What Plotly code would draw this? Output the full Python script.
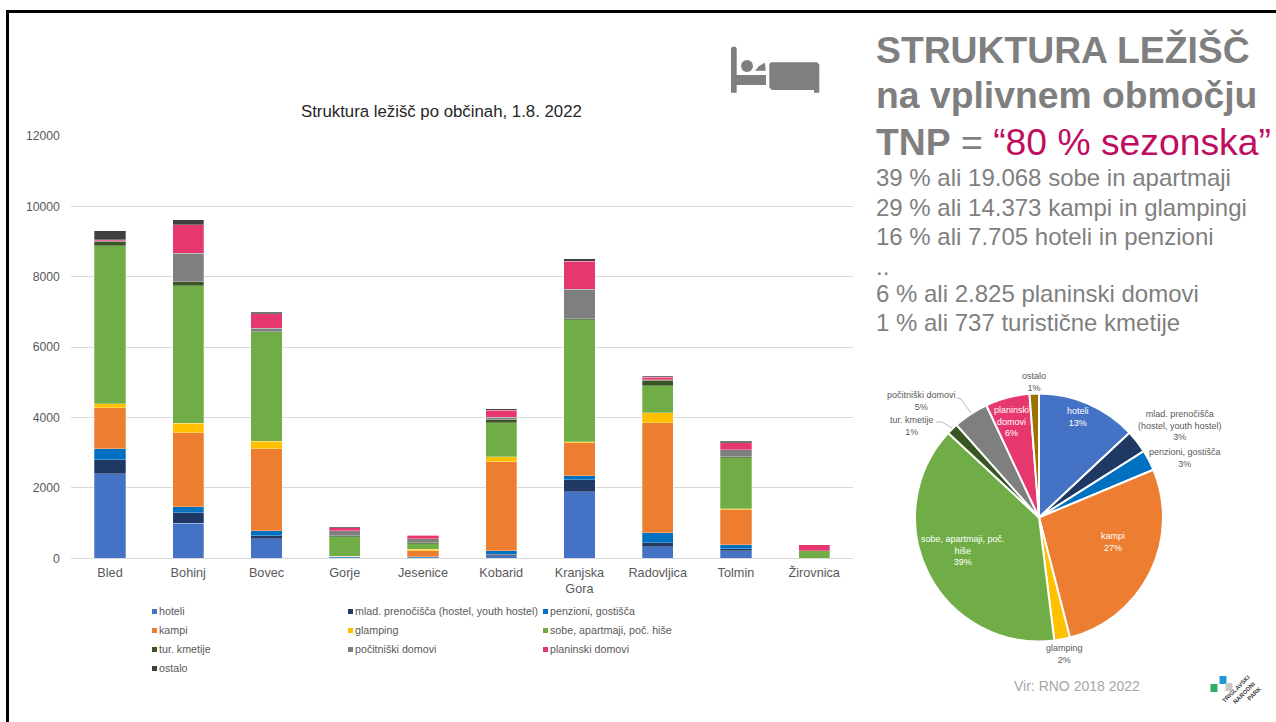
import plotly.graph_objects as go

# ---- data ----
municipalities = ["Bled", "Bohinj", "Bovec", "Gorje", "Jesenice", "Kobarid", "Kranjska<br>Gora", "Radovljica", "Tolmin", "Žirovnica"]
hoteli = [2400, 995, 557, 10, 10, 76, 1887, 322, 209, 0]
mlad = [400, 302, 86, 10, 10, 38, 341, 124, 66, 0]
penzioni = [315, 171, 142, 30, 30, 95, 123, 274, 104, 0]
kampi = [1165, 2095, 2330, 5, 166, 2531, 939, 3138, 1005, 0]
glamping = [105, 275, 212, 0, 40, 142, 18, 285, 29, 0]
sobe = [4495, 3912, 3108, 559, 151, 967, 3470, 758, 1440, 209]
tur_kmetije = [120, 115, 5, 26, 48, 85, 38, 152, 29, 0]
pocitniski = [30, 805, 100, 145, 94, 76, 825, 19, 208, 0]
planinski = [20, 807, 406, 77, 105, 199, 806, 76, 200, 170]
ostalo = [260, 143, 39, 38, 0, 38, 66, 28, 37, 0]

series_names = ["hoteli", "mlad. prenočišča (hostel, youth hostel)", "penzioni, gostišča", "kampi", "glamping",
                "sobe, apartmaji, poč. hiše", "tur. kmetije", "počitniški domovi", "planinski domovi", "ostalo"]
series_values = [hoteli, mlad, penzioni, kampi, glamping, sobe, tur_kmetije, pocitniski, planinski, ostalo]
colors = ["#4472C4", "#1F3864", "#0070C0", "#ED7D31", "#FFC000", "#70AD47", "#375623", "#7F7F7F", "#E6386E", "#404040"]
pie_colors = colors[:9] + ["#997300"]

pie_values = [6385, 1470, 1320, 13373, 1000, 19068, 737, 2250, 2825, 600]

chart_title = "Struktura ležišč po občinah, 1.8. 2022"
y_ticks = [0, 2000, 4000, 6000, 8000, 10000, 12000]
body_lines = ["39 % ali 19.068 sobe in apartmaji", "29 % ali 14.373 kampi in glampingi", "16 % ali 7.705 hoteli in penzioni",
              "..", "6 % ali 2.825 planinski domovi", "1 % ali 737 turistične kmetije"]

W, H = 1276, 722
FONT = "Liberation Sans"
GREY = "#7F7F7F"
LBL = "#595959"

def px(x): return x / W
def py(y): return 1 - y / H

fig = go.Figure()
for name, vals, col in zip(series_names, series_values, colors):
    fig.add_bar(x=municipalities, y=vals, name=name, marker=dict(color=col, line=dict(color="rgba(255,255,255,0.35)", width=0.8)),
                xaxis="x", yaxis="y", showlegend=False)
fig.add_pie(values=pie_values, labels=series_names, sort=False, direction="clockwise", rotation=0,
            marker=dict(colors=pie_colors, line=dict(color="white", width=2)), textinfo="none", hoverinfo="label+percent",
            domain=dict(x=[px(915), px(1163)], y=[py(641.5), py(393.5)]), showlegend=False)

shapes, ann = [], []

def text(x, y, s, size, color=LBL, xanchor="left", angle=0, align="left"):
    ann.append(dict(x=px(x), y=py(y), xref="paper", yref="paper", text=s, showarrow=False, xanchor=xanchor, yanchor="middle",
                    font=dict(family=FONT, size=size, color=color), textangle=angle, align=align, borderpad=0))

# frame
shapes.append(dict(type="line", xref="paper", yref="paper", x0=px(7.5), x1=1, y0=py(11.5), y1=py(11.5), line=dict(color="black", width=3)))
shapes.append(dict(type="line", xref="paper", yref="paper", x0=px(7.5), x1=px(7.5), y0=py(10), y1=0, line=dict(color="black", width=3)))

# chart title
text(441.5, 112, chart_title, 16.8, "#262626", "center")

# bar legend
leg_x = [152, 348, 543]
leg_y = [611, 630, 649, 668]
order = [(0, 0), (1, 0), (2, 0), (0, 1), (1, 1), (2, 1), (0, 2), (1, 2), (2, 2), (0, 3)]
for (cx, ry), name, col in zip(order, series_names, colors):
    x0, y0 = leg_x[cx], leg_y[ry]
    shapes.append(dict(type="rect", xref="paper", yref="paper", x0=px(x0), x1=px(x0 + 5), y0=py(y0 + 3), y1=py(y0 - 2), fillcolor=col, line=dict(width=0)))
    text(x0 + 6, y0, name, 10.7, LBL)

# right headline
text(875, 50, "<b>STRUKTURA LEŽIŠČ</b>", 37.3, GREY)
text(875, 95, "<b>na vplivnem območju</b>", 37.3, GREY)
text(875, 142, "<b>TNP</b> = <span style='color:#C00D5F'>“80 % sezonska”</span>", 37.3, GREY)
for y, line in zip([177, 207, 236, 266, 293, 322], body_lines):
    text(875, y, line, 24, GREY)

# pie labels
pie_labels = [
    (1078, 417, "hoteli<br>13%", "white"), (1180, 425.5, "mlad. prenočišča<br>(hostel, youth hostel)<br>3%", LBL),
    (1185, 458, "penzioni, gostišča<br>3%", LBL), (1113, 542, "kampi<br>27%", "white"),
    (1064, 653.5, "glamping<br>2%", LBL), (963, 550, "sobe, apartmaji, poč.<br>hiše<br>39%", "white"),
    (912, 425.5, "tur. kmetije<br>1%", LBL), (921.5, 401, "počitniški domovi<br>5%", LBL),
    (1011, 421.5, "planinski<br>domovi<br>6%", "white"), (1034, 381.5, "ostalo<br>1%", LBL),
]
for x, y, s, c in pie_labels:
    text(x, y, s, 9, c, "center", align="center")
for pts in [[(957, 398), (961, 399), (971, 413)], [(936, 422), (942, 422), (952, 428)]]:
    for a, b in zip(pts, pts[1:]):
        shapes.append(dict(type="line", xref="paper", yref="paper", x0=px(a[0]), y0=py(a[1]), x1=px(b[0]), y1=py(b[1]), line=dict(color="#A6A6A6", width=0.8)))

text(1077, 686, "Vir: RNO 2018 2022", 14, "#A6A6A6", "center")

# bed icon
def path(points): return "M" + " L".join(f"{px(a):.5f},{py(b):.5f}" for a, b in points) + " Z"
bed = [[(731, 48), (732.5, 46.7), (735.5, 46.7), (736.7, 48), (736.7, 75), (766, 75), (766, 85), (736.7, 85), (736.7, 92.7), (731, 92.7)],
       [(771, 62.3), (817, 62.3), (819.3, 64.5), (819.3, 92.7), (814, 92.7), (814, 90), (772, 90), (769.3, 87.5), (769.3, 64)],
       [(755, 70.7), (759, 66), (765, 62.7), (765.7, 70.7)]]
for p in bed:
    shapes.append(dict(type="path", xref="paper", yref="paper", path=path(p), fillcolor=GREY, line=dict(width=0)))
shapes.append(dict(type="circle", xref="paper", yref="paper", x0=px(741), x1=px(753), y0=py(72), y1=py(60), fillcolor=GREY, line=dict(width=0)))

# logo
for (x, y, c) in [(1214, 688, "#2EAD6B"), (1223, 680, "#1D9AD6"), (1229, 687, "#C8C8C8")]:
    shapes.append(dict(type="rect", xref="paper", yref="paper", x0=px(x - 3.5), x1=px(x + 3.5), y0=py(y + 4), y1=py(y - 4), fillcolor=c, line=dict(width=0)))
for x, y, s in [(1236, 689, "TRIGLAVSKI"), (1244, 693, "NARODNI"), (1254, 694, "PARK")]:
    text(x, y, f"<b>{s}</b>", 6, "#404040", "center", angle=-45)

fig.update_layout(
    width=W, height=H, margin=dict(l=0, r=0, t=0, b=0), autosize=False, barmode="stack", bargap=0.6,
    paper_bgcolor="white", plot_bgcolor="white", font=dict(family=FONT), shapes=shapes, annotations=ann,
    xaxis=dict(domain=[px(70.9), px(853.3)], anchor="y", automargin=False, showgrid=False, ticks="", ticklabelstandoff=2,
               tickfont=dict(size=12.7, color=LBL, family=FONT), linecolor="#D9D9D9", showline=True, linewidth=1),
    yaxis=dict(domain=[py(558.3), py(136)], anchor="x", automargin=False, range=[0, 12000], tickvals=y_ticks, tickformat="d", gridcolor="#D9D9D9", gridwidth=1,
               showline=False, ticks="", zeroline=False, ticklabelstandoff=10, tickfont=dict(size=12.2, color=LBL, family=FONT)),
)
fig.write_html("out.html", config={"displayModeBar": False},
               post_script="document.documentElement.style.margin='0';document.body.style.margin='0';document.body.style.padding='0';")
